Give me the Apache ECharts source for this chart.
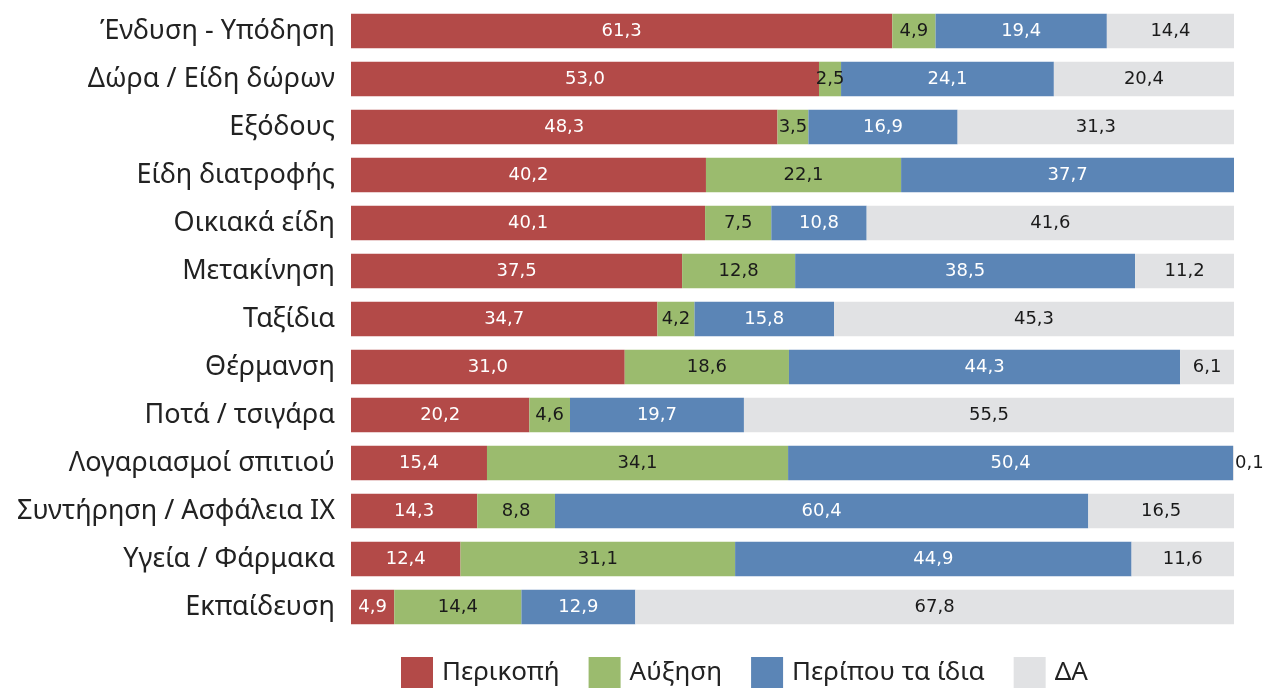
<!DOCTYPE html>
<html>
<head>
<meta charset="utf-8">
<script src="https://cdn.jsdelivr.net/npm/echarts@6/dist/echarts.min.js"></script>
<style>
  html, body { margin: 0; padding: 0; background: #fff; }
  #chart { width: 1264px; height: 688px; }
</style>
</head>
<body>
<div id="chart"></div>
<script>
// categories top to bottom
const categories = [
  'Ένδυση - Υπόδηση', 'Δώρα / Είδη δώρων', 'Εξόδους', 'Είδη διατροφής',
  'Οικιακά είδη', 'Μετακίνηση', 'Ταξίδια', 'Θέρμανση', 'Ποτά / τσιγάρα',
  'Λογαριασμοί σπιτιού', 'Συντήρηση / Ασφάλεια ΙΧ', 'Υγεία / Φάρμακα', 'Εκπαίδευση'
]
const seriesNames = ['Περικοπή', 'Αύξηση', 'Περίπου τα ίδια', 'ΔΑ']
const cutValues = [61.3, 53.0, 48.3, 40.2, 40.1, 37.5, 34.7, 31.0, 20.2, 15.4, 14.3, 12.4, 4.9]
const upValues = [4.9, 2.5, 3.5, 22.1, 7.5, 12.8, 4.2, 18.6, 4.6, 34.1, 8.8, 31.1, 14.4]
const sameValues = [19.4, 24.1, 16.9, 37.7, 10.8, 38.5, 15.8, 44.3, 19.7, 50.4, 60.4, 44.9, 12.9]
const naValues = [14.4, 20.4, 31.3, null, 41.6, 11.2, 45.3, 6.1, 55.5, 0.1, 16.5, 11.6, 67.8]

const colors = ['#b34a48', '#9bbb6e', '#5b85b6', '#e1e2e4']
const labelColors = ['#ffffff', '#1a1a1a', '#ffffff', '#1a1a1a']
const allValues = [cutValues, upValues, sameValues, naValues]

const chart = echarts.init(document.getElementById('chart'))

const fmt = v => v.toFixed(1).replace('.', ',')

const series = allValues.map((vals, i) => ({
  name: seriesNames[i],
  type: 'bar',
  stack: 'total',
  barCategoryGap: '28%',
  itemStyle: { color: colors[i] },
  label: {
    show: true,
    position: 'inside',
    color: labelColors[i],
    fontSize: 18,
    fontFamily: 'DejaVu Sans',
    formatter: p => p.value == null ? '' : fmt(p.value)
  },
  data: vals.map(v => {
    // tiny slice: put label outside to the right
    if (v != null && v < 1) {
      return { value: v, label: { position: 'right', distance: 1 } }
    }
    return v
  })
}))

chart.setOption({
  animation: false,
  grid: { left: 351, right: 30, top: 7, bottom: 57 },
  legend: {
    data: seriesNames,
    top: 657,
    left: 401,
    padding: 0,
    itemWidth: 32,
    itemHeight: 32,
    itemGap: 29,
    icon: 'rect',
    textStyle: { fontSize: 26, color: '#222', fontFamily: 'Noto Sans', padding: [0, 0, 0, 4] }
  },
  xAxis: {
    type: 'value',
    min: 0,
    max: 100,
    show: false
  },
  yAxis: {
    type: 'category',
    data: categories,
    inverse: true,
    axisLine: { show: false },
    axisTick: { show: false },
    axisLabel: { fontSize: 27, color: '#222', margin: 16, fontFamily: 'Noto Sans' }
  },
  series: series
})
</script>
</body>
</html>
